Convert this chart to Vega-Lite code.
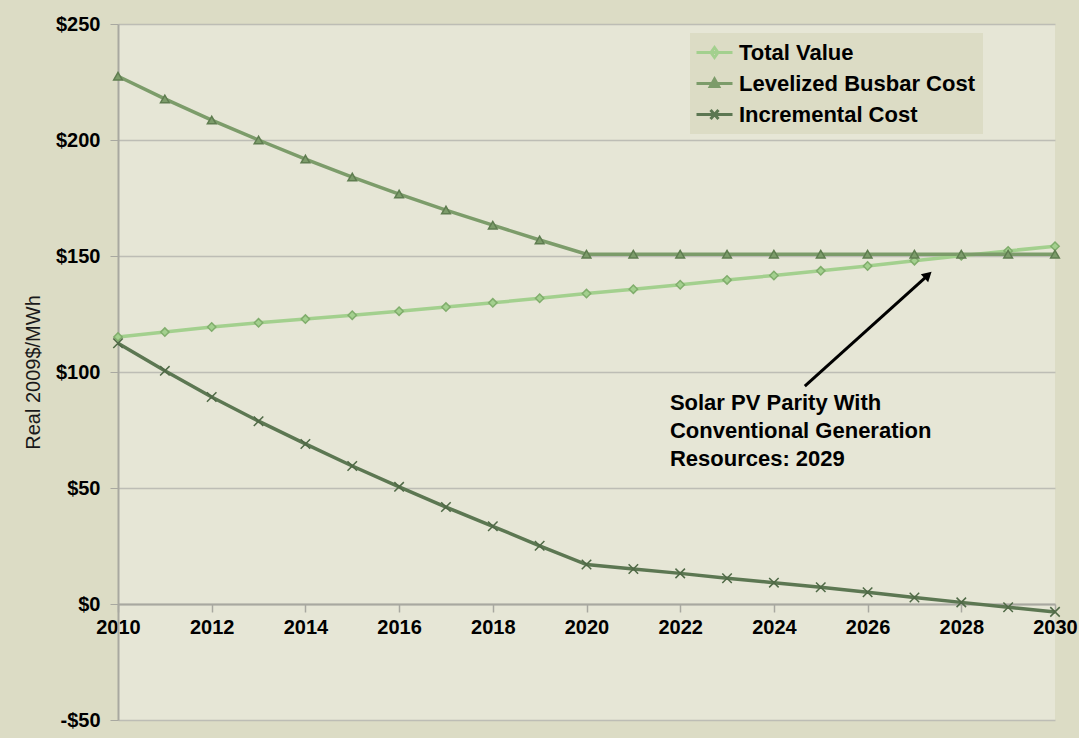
{
  "$schema": "https://vega.github.io/schema/vega-lite/v6.json",
  "width": 937,
  "height": 696,
  "autosize": "none",
  "padding": {"left": 118, "top": 24, "right": 24, "bottom": 18},
  "background": "#dcdcc5",
  "config": {
    "view": {"fill": "#e6e6d6", "stroke": null},
    "font": "Liberation Sans",
    "axis": {"labelFont": "Liberation Sans", "titleFont": "Liberation Sans"},
    "legend": {"labelFont": "Liberation Sans"}
  },
  "datasets": {
    "series": [
      {"year": 2010, "series": "Total Value", "value": 115.1},
      {"year": 2011, "series": "Total Value", "value": 117.2},
      {"year": 2012, "series": "Total Value", "value": 119.4},
      {"year": 2013, "series": "Total Value", "value": 121.2},
      {"year": 2014, "series": "Total Value", "value": 122.8},
      {"year": 2015, "series": "Total Value", "value": 124.5},
      {"year": 2016, "series": "Total Value", "value": 126.2},
      {"year": 2017, "series": "Total Value", "value": 128.0},
      {"year": 2018, "series": "Total Value", "value": 129.8},
      {"year": 2019, "series": "Total Value", "value": 131.8},
      {"year": 2020, "series": "Total Value", "value": 133.8},
      {"year": 2021, "series": "Total Value", "value": 135.7},
      {"year": 2022, "series": "Total Value", "value": 137.6},
      {"year": 2023, "series": "Total Value", "value": 139.7},
      {"year": 2024, "series": "Total Value", "value": 141.6},
      {"year": 2025, "series": "Total Value", "value": 143.6},
      {"year": 2026, "series": "Total Value", "value": 145.7},
      {"year": 2027, "series": "Total Value", "value": 148.0},
      {"year": 2028, "series": "Total Value", "value": 150.1},
      {"year": 2029, "series": "Total Value", "value": 152.2},
      {"year": 2030, "series": "Total Value", "value": 154.2},
      {"year": 2010, "series": "Levelized Busbar Cost", "value": 227.5},
      {"year": 2011, "series": "Levelized Busbar Cost", "value": 217.7},
      {"year": 2012, "series": "Levelized Busbar Cost", "value": 208.6},
      {"year": 2013, "series": "Levelized Busbar Cost", "value": 200.0},
      {"year": 2014, "series": "Levelized Busbar Cost", "value": 191.8},
      {"year": 2015, "series": "Levelized Busbar Cost", "value": 184.0},
      {"year": 2016, "series": "Levelized Busbar Cost", "value": 176.7},
      {"year": 2017, "series": "Levelized Busbar Cost", "value": 169.8},
      {"year": 2018, "series": "Levelized Busbar Cost", "value": 163.3},
      {"year": 2019, "series": "Levelized Busbar Cost", "value": 156.9},
      {"year": 2020, "series": "Levelized Busbar Cost", "value": 150.8},
      {"year": 2021, "series": "Levelized Busbar Cost", "value": 150.8},
      {"year": 2022, "series": "Levelized Busbar Cost", "value": 150.8},
      {"year": 2023, "series": "Levelized Busbar Cost", "value": 150.8},
      {"year": 2024, "series": "Levelized Busbar Cost", "value": 150.8},
      {"year": 2025, "series": "Levelized Busbar Cost", "value": 150.8},
      {"year": 2026, "series": "Levelized Busbar Cost", "value": 150.8},
      {"year": 2027, "series": "Levelized Busbar Cost", "value": 150.8},
      {"year": 2028, "series": "Levelized Busbar Cost", "value": 150.8},
      {"year": 2029, "series": "Levelized Busbar Cost", "value": 150.8},
      {"year": 2030, "series": "Levelized Busbar Cost", "value": 150.8},
      {"year": 2010, "series": "Incremental Cost", "value": 112.4},
      {"year": 2011, "series": "Incremental Cost", "value": 100.5},
      {"year": 2012, "series": "Incremental Cost", "value": 89.2},
      {"year": 2013, "series": "Incremental Cost", "value": 78.8},
      {"year": 2014, "series": "Incremental Cost", "value": 69.0},
      {"year": 2015, "series": "Incremental Cost", "value": 59.5},
      {"year": 2016, "series": "Incremental Cost", "value": 50.5},
      {"year": 2017, "series": "Incremental Cost", "value": 41.8},
      {"year": 2018, "series": "Incremental Cost", "value": 33.5},
      {"year": 2019, "series": "Incremental Cost", "value": 25.1},
      {"year": 2020, "series": "Incremental Cost", "value": 17.0},
      {"year": 2021, "series": "Incremental Cost", "value": 15.1},
      {"year": 2022, "series": "Incremental Cost", "value": 13.2},
      {"year": 2023, "series": "Incremental Cost", "value": 11.1},
      {"year": 2024, "series": "Incremental Cost", "value": 9.2},
      {"year": 2025, "series": "Incremental Cost", "value": 7.2},
      {"year": 2026, "series": "Incremental Cost", "value": 5.1},
      {"year": 2027, "series": "Incremental Cost", "value": 2.8},
      {"year": 2028, "series": "Incremental Cost", "value": 0.7},
      {"year": 2029, "series": "Incremental Cost", "value": -1.4},
      {"year": 2030, "series": "Incremental Cost", "value": -3.4}
    ],
    "arrow": [
      {"x": 2024.66, "y": 93.9, "x2": 2027.29, "y2": 141.8}
    ],
    "note": [
      {"x": 2021.78, "y": 86.5, "label": ["Solar PV Parity With", "Conventional Generation", "Resources: 2029"]}
    ]
  },
  "layer": [
    {
      "data": {"name": "series"},
      "mark": {"type": "line", "strokeWidth": 3.5},
      "encoding": {
        "x": {
          "field": "year", "type": "quantitative",
          "scale": {"domain": [2010, 2030], "nice": false},
          "axis": {
            "title": null, "values": [2010, 2012, 2014, 2016, 2018, 2020, 2022, 2024, 2026, 2028, 2030],
            "format": "d", "offset": -116, "grid": false, "labelFlush": false,
            "domainColor": "#a8a8a0", "domainWidth": 2, "tickColor": "#a8a8a0", "tickSize": 8, "tickWidth": 1.5,
            "labelFontSize": 20, "labelFontWeight": "bold", "labelColor": "#000000", "labelPadding": 5
          }
        },
        "y": {
          "field": "value", "type": "quantitative",
          "scale": {"domain": [-50, 250], "nice": false},
          "axis": {
            "title": "Real 2009$/MWh", "values": [-50, 0, 50, 100, 150, 200, 250],
            "labelExpr": "datum.value < 0 ? '-$' + abs(datum.value) : '$' + datum.value",
            "grid": true, "gridColor": "#bdbdb5", "gridWidth": 1.5,
            "domainColor": "#a8a8a0", "domainWidth": 2, "tickColor": "#a8a8a0", "tickSize": 8,
            "labelFontSize": 20, "labelFontWeight": "bold", "labelColor": "#000000", "labelPadding": 10,
            "titleFontSize": 20, "titleFontWeight": "normal", "titleColor": "#1a1a1a", "titlePadding": 12
          }
        },
        "color": {
          "field": "series", "type": "nominal",
          "scale": {"domain": ["Total Value", "Levelized Busbar Cost", "Incremental Cost"], "range": ["#a3d08e", "#7c9c6a", "#5c7752"]},
          "legend": {
            "title": null, "orient": "none", "legendX": 572, "legendY": 9,
            "fillColor": "#dcdcc5", "padding": 8,
            "labelFontSize": 22, "labelFontWeight": "bold", "labelColor": "#000000", "labelOffset": 18, "labelLimit": 400,
            "symbolSize": 400, "symbolStrokeWidth": 3.5, "rowPadding": 8,
            "encode": {
              "symbols": {
                "update": {
                  "shape": {"signal": "datum.value === 'Total Value' ? 'M-1.3,0H2.3M0.5,-0.5L0.85,0L0.5,0.5L0.15,0Z' : datum.value === 'Levelized Busbar Cost' ? 'M-1.3,0H2.3M0.5,-0.45L0.92,0.3L0.08,0.3Z' : 'M-1.3,0H2.3M0.1,-0.45L0.9,0.45M0.1,0.45L0.9,-0.45'"},
                  "fill": {"value": "transparent"},
                  "strokeWidth": {"value": 3}
                }
              }
            }
          }
        },
        "detail": {"field": "series"}
      }
    },
    {
      "data": {"name": "series"},
      "transform": [{"filter": "datum.series === 'Total Value'"}],
      "mark": {"type": "point", "shape": "diamond", "filled": true, "fill": "#a3d08e", "stroke": "#80ad6c", "size": 70, "strokeWidth": 1.5, "opacity": 1},
      "encoding": {
        "x": {"field": "year", "type": "quantitative"},
        "y": {"field": "value", "type": "quantitative"}
      }
    },
    {
      "data": {"name": "series"},
      "transform": [{"filter": "datum.series === 'Levelized Busbar Cost'"}],
      "mark": {"type": "point", "shape": "triangle-up", "filled": true, "fill": "#7c9c6a", "stroke": "#5f7d50", "size": 75, "strokeWidth": 1.5, "opacity": 1},
      "encoding": {
        "x": {"field": "year", "type": "quantitative"},
        "y": {"field": "value", "type": "quantitative"}
      }
    },
    {
      "data": {"name": "series"},
      "transform": [{"filter": "datum.series === 'Incremental Cost'"}],
      "mark": {"type": "point", "shape": "M-1,-1L1,1M-1,1L1,-1", "filled": false, "stroke": "#4f6946", "size": 90, "strokeWidth": 1.5, "opacity": 1},
      "encoding": {
        "x": {"field": "year", "type": "quantitative"},
        "y": {"field": "value", "type": "quantitative"}
      }
    },
    {
      "data": {"name": "arrow"},
      "mark": {"type": "rule", "color": "#000000", "strokeWidth": 3},
      "encoding": {
        "x": {"field": "x", "type": "quantitative"},
        "y": {"field": "y", "type": "quantitative"},
        "x2": {"field": "x2"},
        "y2": {"field": "y2"}
      }
    },
    {
      "data": {"name": "arrow"},
      "mark": {"type": "point", "shape": "triangle-up", "filled": true, "color": "#000000", "size": 120, "angle": 48, "opacity": 1},
      "encoding": {
        "x": {"field": "x2", "type": "quantitative"},
        "y": {"field": "y2", "type": "quantitative"}
      }
    },
    {
      "data": {"name": "note"},
      "mark": {"type": "text", "align": "left", "baseline": "middle", "fontSize": 22, "fontWeight": "bold", "font": "Liberation Sans", "lineHeight": 28, "color": "#000000"},
      "encoding": {
        "x": {"field": "x", "type": "quantitative"},
        "y": {"field": "y", "type": "quantitative"},
        "text": {"field": "label"}
      }
    }
  ]
}
